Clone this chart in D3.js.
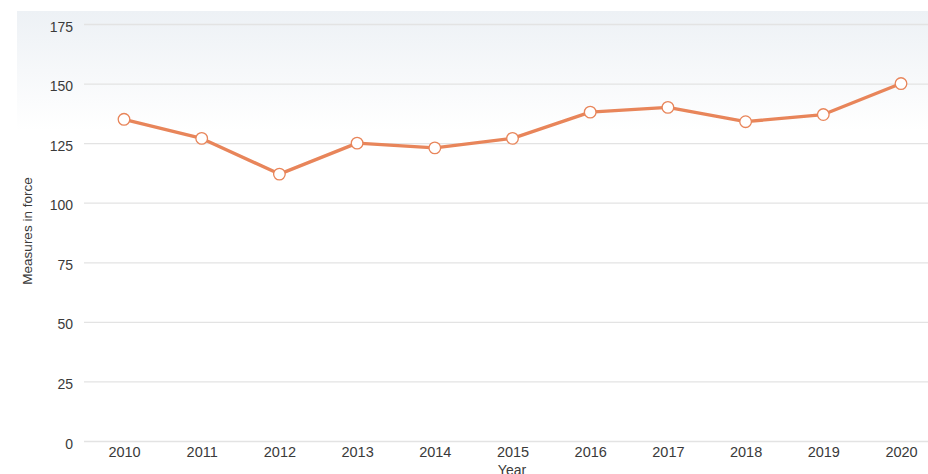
<!DOCTYPE html>
<html><head><meta charset="utf-8">
<script src="https://cdn.jsdelivr.net/npm/d3@7"></script>
<style>html,body{margin:0;padding:0;background:#fff;}svg{display:block;font-family:"Liberation Sans",Arial,sans-serif;}</style>
</head><body>
<script>
const years = [2010,2011,2012,2013,2014,2015,2016,2017,2018,2019,2020];
const measures = [135,127,112,125,123,127,138,140,134,137,150];
const yTicks = [0,25,50,75,100,125,150,175];
const xTitle = "Year";
const yTitle = "Measures in force";

const W = 928, H = 474;
const svg = d3.select("body").append("svg").attr("width", W).attr("height", H);

const defs = svg.append("defs");
const grad = defs.append("linearGradient").attr("id","bg").attr("x1",0).attr("y1",0).attr("x2",0).attr("y2",1);
grad.append("stop").attr("offset","0%").attr("stop-color","#edf1f5");
grad.append("stop").attr("offset","100%").attr("stop-color","#ffffff");
svg.append("rect").attr("x",17).attr("y",11).attr("width",W-17).attr("height",120).attr("fill","url(#bg)");

const x = d3.scalePoint().domain(years).range([124, 901]);
const y = d3.scaleLinear().domain([0,175]).range([441, 24]);

// gridlines
const gy = svg.append("g").attr("transform","translate(84,0)")
  .call(d3.axisLeft(y).tickValues(yTicks).tickSize(-(W-84)).tickFormat(d3.format("d")).tickPadding(11));
gy.select(".domain").remove();
gy.selectAll(".tick line").attr("stroke","#e3e3e3").attr("stroke-width",1.3);
gy.selectAll(".tick text").attr("fill","#3a3a3a").attr("font-size",14).attr("font-family","Liberation Sans, Arial, sans-serif").attr("dy","0.5em");

const gx = svg.append("g").attr("transform","translate(0,441)")
  .call(d3.axisBottom(x).tickSize(0).tickPadding(6).tickFormat(d3.format("d")));
gx.select(".domain").remove();
gx.selectAll(".tick text").attr("fill","#3a3a3a").attr("font-size",14.5).attr("font-family","Liberation Sans, Arial, sans-serif");

svg.append("text").attr("x",512).attr("y",475).attr("text-anchor","middle")
  .attr("font-size",14).attr("fill","#3a3a3a").text(xTitle);
svg.append("text").attr("transform","translate(32,231) rotate(-90)").attr("text-anchor","middle")
  .attr("font-size",13.5).attr("fill","#3a3a3a").text(yTitle);

const line = d3.line().x((d,i)=>x(years[i])).y(d=>y(d));
svg.append("path").datum(measures).attr("d",line).attr("fill","none")
  .attr("stroke","#e8855a").attr("stroke-width",3.3).attr("stroke-linejoin","round");
svg.selectAll("circle.pt").data(measures).join("circle").attr("class","pt")
  .attr("cx",(d,i)=>x(years[i])).attr("cy",d=>y(d)).attr("r",5.8)
  .attr("fill","#fff").attr("stroke","#e8855a").attr("stroke-width",1.3);
</script>
</body></html>
